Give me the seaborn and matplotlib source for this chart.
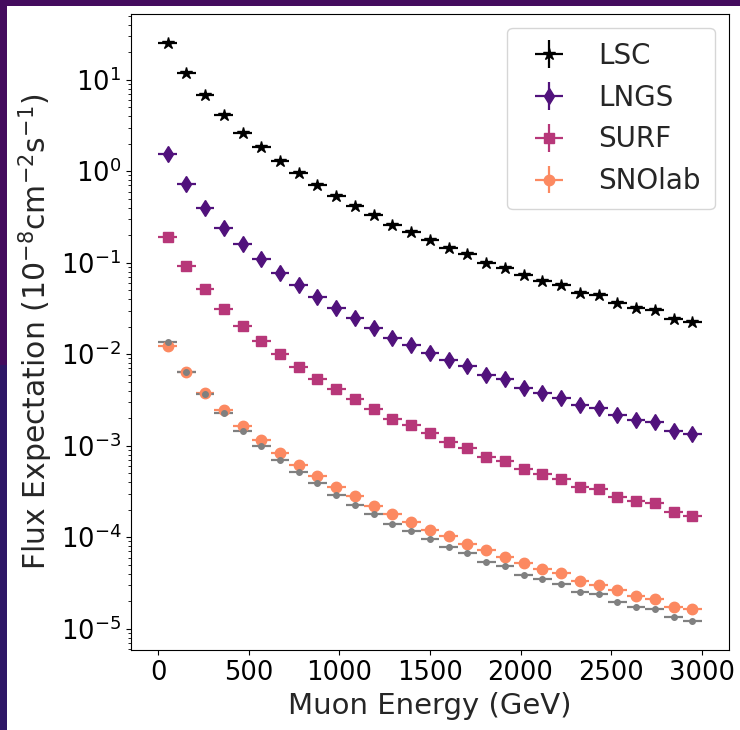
import numpy as np
import matplotlib
matplotlib.use("Agg")
import matplotlib.pyplot as plt
from matplotlib.patches import Rectangle
from matplotlib.ticker import NullFormatter
import seaborn as sns

# ---- data ----
bin_edges = np.linspace(0, 3000, 30)
energy = 0.5 * (bin_edges[:-1] + bin_edges[1:])
energy_halfwidth = 0.5 * np.diff(bin_edges)

lsc = [25.3, 11.9, 6.74, 4.07, 2.64, 1.84, 1.29, 0.947, 0.706, 0.535,
       0.416, 0.330, 0.256, 0.216, 0.177, 0.145, 0.1236, 0.0985, 0.0883, 0.0728,
       0.0631, 0.0566, 0.0471, 0.0441, 0.0360, 0.0320, 0.0302, 0.0245, 0.0225]
lngs = [1.53, 0.718, 0.400, 0.2415, 0.159, 0.109, 0.0766, 0.0566, 0.0422, 0.0323,
        0.0251, 0.0195, 0.0152, 0.01253, 0.01043, 0.00859, 0.00745, 0.00589, 0.00533, 0.00432,
        0.00381, 0.00336, 0.00277, 0.00261, 0.00217, 0.00191, 0.00182, 0.00145, 0.00134]
surf = [0.193, 0.0921, 0.0512, 0.0310, 0.0204, 0.01397, 0.0100, 0.00726, 0.00542, 0.00414,
        0.00322, 0.00251, 0.00198, 0.00167, 0.00137, 0.00110, 0.000955, 0.000762, 0.000682, 0.000553,
        0.000489, 0.000431, 0.000355, 0.000335, 0.000276, 0.000246, 0.000234, 0.000189, 0.000171]
snolab = [0.01230, 0.00646, 0.00381, 0.00246, 0.001644, 0.001148, 0.000828, 0.000612, 0.000461, 0.000355,
          0.000279, 0.000220, 0.0001786, 0.0001449, 0.0001202, 0.0001019, 0.0000854, 0.0000722, 0.0000610, 0.0000521,
          0.0000448, 0.0000402, 0.0000334, 0.0000299, 0.0000264, 0.0000229, 0.0000210, 0.0000175, 0.0000166]
reference = [0.01375, 0.00646, 0.00366, 0.00225, 0.001452, 0.000996, 0.000700, 0.000518, 0.000387, 0.000290,
             0.0002255, 0.0001786, 0.0001389, 0.0001175, 0.0000952, 0.0000773, 0.0000670, 0.0000530, 0.0000479, 0.0000388,
             0.0000348, 0.0000307, 0.0000253, 0.0000239, 0.0000194, 0.0000173, 0.0000164, 0.0000133, 0.0000120]

labels = ["LSC", "LNGS", "SURF", "SNOlab"]
markers = ["*", "d", "s", "o"]
x_ticks = [0, 500, 1000, 1500, 2000, 2500, 3000]
y_ticks = [1e-5, 1e-4, 1e-3, 1e-2, 1e-1, 1e0, 1e1]

# ---- style ----
sns.set_style("ticks")
plt.rcParams["font.family"] = ["DejaVu Sans"]
plt.rcParams["axes.edgecolor"] = "black"
plt.rcParams["xtick.color"] = "black"
plt.rcParams["ytick.color"] = "black"

colors = ["black"] + sns.color_palette("magma", 3)

fig = plt.figure(figsize=(7.4, 7.3), dpi=100)
fig.patch.set_facecolor("white")

# dark frame on left / top edges of the slide
fig.add_artist(Rectangle((0, 0.5), 0.009, 0.5, transform=fig.transFigure,
                         facecolor="#440c5e", edgecolor="none"))
fig.add_artist(Rectangle((0, 0), 0.009, 0.5, transform=fig.transFigure,
                         facecolor="#2e1766", edgecolor="none"))
fig.add_artist(Rectangle((0, 0.992), 1, 0.008, transform=fig.transFigure,
                         facecolor="#440c5e", edgecolor="none"))

ax = fig.add_axes([0.177, 0.109, 0.808, 0.872])

series = [lsc, lngs, surf, snolab]
sizes = [9, 8, 6.5, 7.5]
for vals, lab, mk, col, ms in zip(series, labels, markers, colors, sizes):
    ax.errorbar(energy, vals, xerr=energy_halfwidth, yerr=np.zeros(len(vals)),
                fmt=mk, color=col, markersize=ms, elinewidth=1.6, label=lab)

ax.errorbar(energy, reference, xerr=energy_halfwidth, yerr=np.zeros(len(reference)),
            fmt="o", color="gray", markersize=4, elinewidth=1.6, label="_nolegend_")

ax.set_yscale("log")
ylim = ax.get_ylim()
ax.set_yticks(y_ticks)
ax.set_ylim(ylim)
ax.yaxis.set_minor_formatter(NullFormatter())
ax.set_xticks(x_ticks)
ax.set_xlabel("Muon Energy (GeV)", fontsize=21)
ax.set_ylabel(r"Flux Expectation ($10^{-8}$cm$^{-2}$s$^{-1}$)", fontsize=21.5)
ax.tick_params(axis="both", which="major", labelsize=18.5)
ax.legend(loc="upper right", fontsize=20, frameon=True, borderpad=0.5)

fig.savefig("out.png", dpi=100)
